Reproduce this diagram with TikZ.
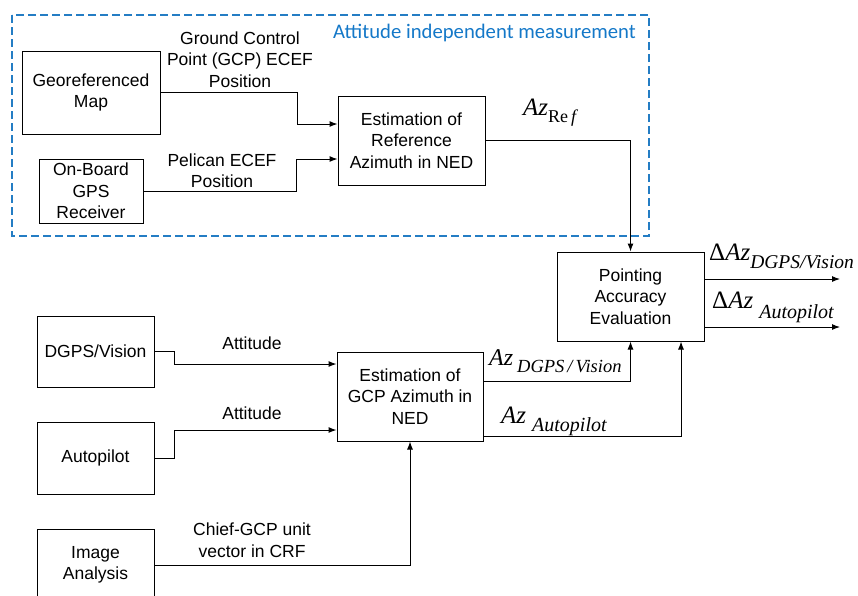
\documentclass[tikz,border=0pt]{standalone}
\usepackage{fontspec}
\setmainfont{Liberation Sans}
\newfontfamily\tnr{Liberation Serif}
\newfontfamily\calibrifont{Carlito}
\usetikzlibrary{arrows.meta}
\definecolor{dashblue}{RGB}{36,125,196}
\definecolor{titleblue}{RGB}{20,120,200}
\begin{document}
\begin{tikzpicture}[x=1pt,y=-1pt,
  box/.style={draw, line width=1pt, align=center, inner sep=0pt,
    font=\fontsize{17.5}{21.5}\selectfont},
  lbl/.style={align=center, inner sep=0pt, font=\fontsize{17.5}{21.5}\selectfont},
  arr/.style={line width=1pt, -{Latex[length=8pt,width=6pt]}},
  mlbl/.style={inner sep=0pt, anchor=base west}]
\useasboundingbox (0,0) rectangle (858,595);
\clip (0,0) rectangle (858,595);

% dashed group
\draw[dashblue, line width=2.5pt, dash pattern=on 8pt off 4pt] (12,15) rectangle (649,236);
\node[anchor=east, inner sep=0pt, text=titleblue, font=\calibrifont\fontsize{20.7}{20.7}\selectfont] (title) at (636,33) {Attitude independent measurement};

% nodes
\node[box, minimum width=138, minimum height=83] (geo) at (91,92.5) {Georeferenced\\Map};
\node[box, minimum width=104, minimum height=64] (gps) at (91,191) {On-Board\\GPS\\Receiver};
\node[box, minimum width=147, minimum height=89] (estref) at (411.5,140.5) {Estimation of\\Reference\\Azimuth in NED};
\node[box, minimum width=147, minimum height=89] (point) at (630.5,296.5) {Pointing\\Accuracy\\Evaluation};
\node[box, minimum width=146, minimum height=89] (estgcp) at (410,396.5) {Estimation of\\GCP Azimuth in\\NED};
\node[box, minimum width=117, minimum height=71] (dgps) at (95.5,351.5) {DGPS/Vision};
\node[box, minimum width=117, minimum height=72] (auto) at (95.5,458) {Autopilot};
\node[box, minimum width=117, minimum height=72] (ia) at (95.5,565) {Image\\Analysis};

% text labels
\node[lbl] (lgcp) at (240,59.5) {Ground Control\\Point (GCP) ECEF\\Position};
\node[lbl] (lpel) at (222,170.5) {Pelican ECEF\\Position};
\node[lbl] (latt1) at (252,343) {Attitude};
\node[lbl] (latt2) at (252,413) {Attitude};
\node[lbl] (lchief) at (252,540) {Chief-GCP unit\\vector in CRF};

% math-like labels
\node[mlbl] (lazref) at (523,115) {\tnr\fontsize{25}{25}\selectfont\itshape Az\raisebox{-7pt}{\fontsize{18}{18}\selectfont\upshape Re\hspace{3pt}\itshape f}};
\node[mlbl] (ldazd) at (709,260) {\tnr\fontsize{25}{25}\selectfont Δ\itshape Az\raisebox{-8pt}{\fontsize{19.5}{19.5}\selectfont DGPS/Vision}};
\node[mlbl] (ldaza) at (712,308) {\tnr\fontsize{25}{25}\selectfont Δ\itshape Az\hspace{6pt}\raisebox{-10pt}{\fontsize{20}{20}\selectfont Autopilot}};
\node[mlbl] (lazd) at (489,365) {\tnr\fontsize{24}{24}\selectfont\itshape Az\hspace{4pt}\raisebox{-7pt}{\fontsize{18.5}{18.5}\selectfont DGPS\hspace{3pt}/\hspace{3pt}Vision}};
\node[mlbl] (laza) at (501,423) {\tnr\fontsize{25}{25}\selectfont\itshape Az\hspace{6pt}\raisebox{-8pt}{\fontsize{20}{20}\selectfont Autopilot}};

% output coordinates
\coordinate (out1) at (840,279);
\coordinate (out2) at (840,327);

% connectors
\draw[arr] (geo.east) -| (297,124) -- (estref.west |- 297,124);
\draw[arr] (gps.east) -| (296,159) -- (estref.west |- 296,159);
\draw[arr] (estref.east) -| (point.north);
\draw[arr] (dgps.east) -| (174,364) -- (estgcp.west |- 174,364);
\draw[arr] (auto.east) -| (174,430) -- (estgcp.west |- 174,430);
\draw[arr] (ia.east) -| (estgcp.south);
\draw[arr] (estgcp.east |- 0,381) -| (point.south);
\draw[arr] (estgcp.east |- 0,436) -| (681,0 |- point.south);
\draw[arr] (point.east |- 0,279) -- (out1);
\draw[arr] (point.east |- 0,327) -- (out2);
\end{tikzpicture}
\end{document}
